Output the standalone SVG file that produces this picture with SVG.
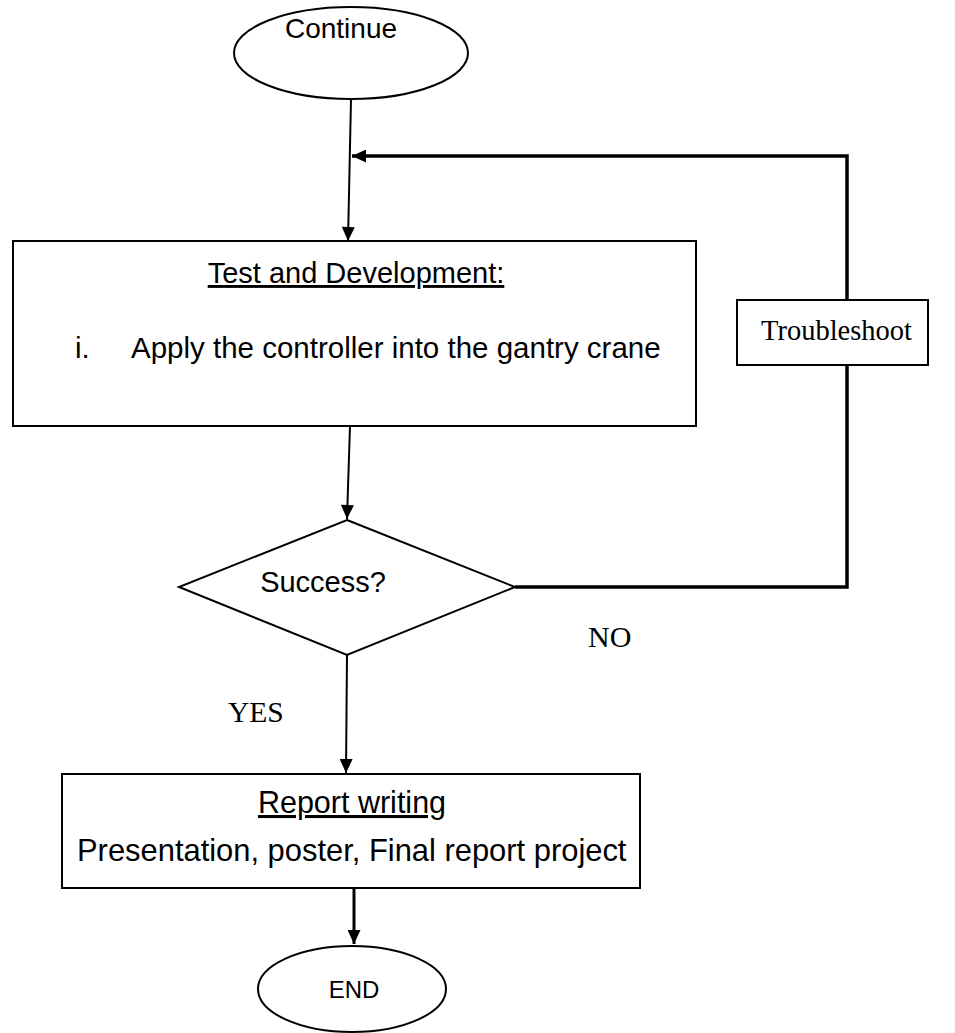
<svg xmlns="http://www.w3.org/2000/svg" width="955" height="1033" viewBox="0 0 955 1033">
<style>
.shape{fill:#fff;stroke:#000;stroke-width:2}
.sans{font-family:"Liberation Sans",Arial,sans-serif;font-size:29px;fill:#000}
.serif{font-family:"Liberation Serif","Times New Roman",serif;font-size:28.5px;fill:#000}
.conn{fill:none;stroke:#000;stroke-width:2}
.thick{fill:none;stroke:#000;stroke-width:3.5}
</style>
<defs>
<marker id="arr" viewBox="0 0 14 13" refX="14" refY="6.5" markerWidth="15" markerHeight="13" markerUnits="userSpaceOnUse" orient="auto">
<path d="M0,0 L14,6.5 L0,13 z" fill="#000"/>
</marker>
</defs>
<rect width="955" height="1033" fill="#fff"/>
<g id="connectors">
<path class="conn" d="M351,99 L348,241" marker-end="url(#arr)"/>
<path class="thick" d="M515,587 L847,587 L847,156 L352,156" marker-end="url(#arr)"/>
<path class="conn" d="M350,426 L347,519" marker-end="url(#arr)"/>
<path class="conn" d="M347,655 L346,773" marker-end="url(#arr)"/>
<path class="conn" style="stroke-width:3" d="M354,888 L354,944" marker-end="url(#arr)"/>
</g>
<g id="continue">
<ellipse class="shape" cx="351" cy="53" rx="117" ry="46"/>
<text class="sans" x="341" y="38" text-anchor="middle" style="font-size:28px">Continue</text>
</g>
<g id="test">
<rect class="shape" x="13" y="241" width="683" height="185"/>
<text class="sans" x="356" y="283" text-anchor="middle" text-decoration="underline">Test and Development:</text>
<text class="sans" x="75" y="358" style="font-size:29.5px">i.</text>
<text class="sans" x="131" y="358" style="font-size:29.5px">Apply the controller into the gantry crane</text>
</g>
<g id="troubleshoot">
<rect class="shape" x="737" y="300" width="191" height="65"/>
<text class="serif" x="761" y="340">Troubleshoot</text>
</g>
<g id="decision">
<polygon class="shape" points="347,520 515,587 347,655 179,587"/>
<text class="sans" x="323" y="592" text-anchor="middle">Success?</text>
</g>
<g id="labels">
<text class="serif" x="588" y="647" style="font-size:30px">NO</text>
<text class="serif" x="228" y="722" style="font-size:29.5px">YES</text>
</g>
<g id="report">
<rect class="shape" x="62" y="774" width="578" height="114"/>
<text class="sans" x="352" y="813" text-anchor="middle" text-decoration="underline" style="font-size:30.5px">Report writing</text>
<text class="sans" x="77" y="861" style="font-size:30.9px">Presentation, poster, Final report project</text>
</g>
<g id="end">
<ellipse class="shape" cx="352" cy="989" rx="94" ry="43"/>
<text class="sans" x="354" y="998" text-anchor="middle" style="font-size:24px">END</text>
</g>
</svg>
